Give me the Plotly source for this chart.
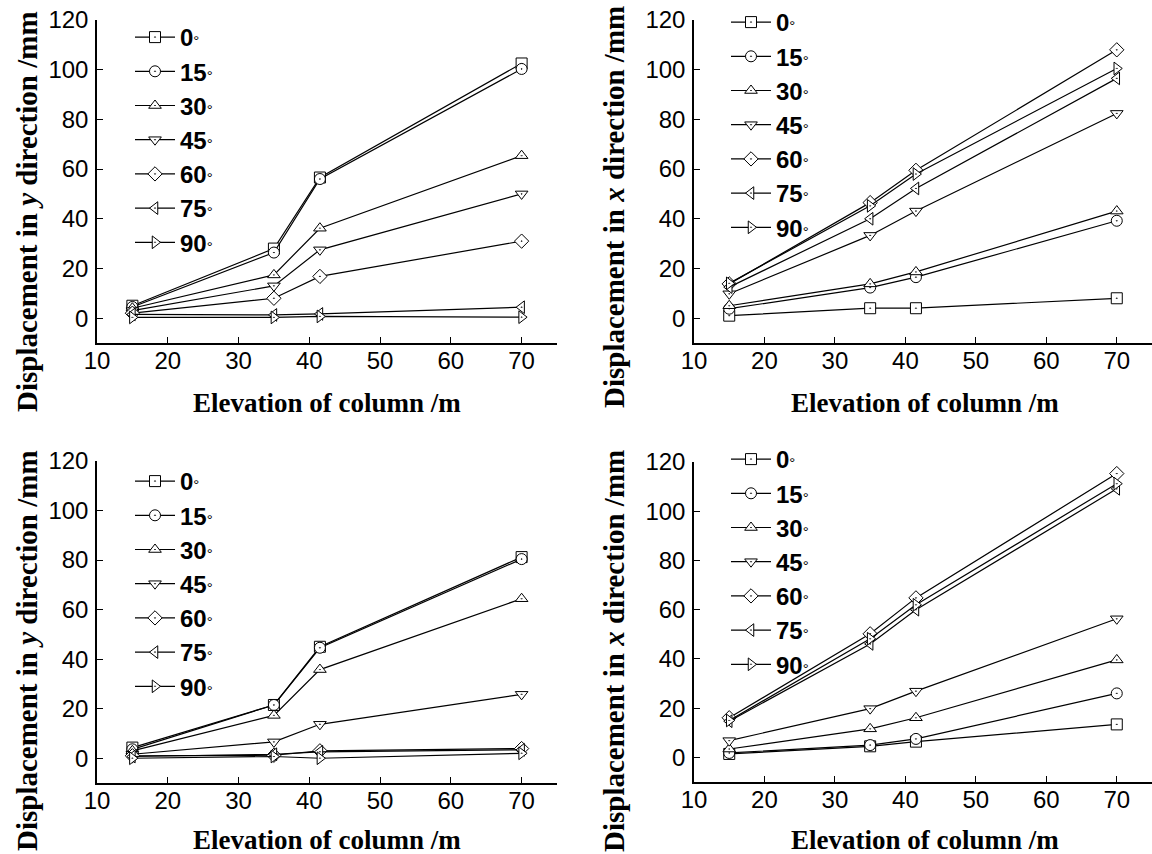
import plotly.graph_objects as go

W, H = 1152, 854

elev = [15, 35, 41.5, 70]
angles = ["0", "15", "30", "45", "60", "75", "90"]
symbols = ["square-dot", "circle-dot", "triangle-up-dot", "triangle-down-dot",
           "diamond-dot", "triangle-left-dot", "triangle-right-dot"]

# Panel A: top-left, displacement in y direction
a_0 = [5.0, 28.0, 56.6, 102.5]
a_15 = [4.5, 26.4, 56.0, 100.3]
a_30 = [4.0, 17.4, 36.2, 65.4]
a_45 = [3.0, 13.0, 27.5, 50.0]
a_60 = [2.0, 8.0, 16.8, 31.0]
a_75 = [1.5, 1.3, 1.7, 4.4]
a_90 = [0.3, 0.3, 0.7, 0.4]

# Panel B: top-right, displacement in x direction
b_0 = [1.0, 4.0, 4.0, 8.0]
b_15 = [3.8, 12.3, 16.5, 39.2]
b_30 = [5.0, 13.8, 18.6, 43.1]
b_45 = [9.8, 33.3, 43.1, 82.4]
b_60 = [13.8, 46.5, 59.5, 108.0]
b_75 = [12.5, 40.0, 52.2, 96.5]
b_90 = [14.0, 45.2, 58.0, 100.5]

# Panel C: bottom-left, displacement in y direction
c_0 = [4.3, 21.5, 45.0, 81.2]
c_15 = [3.6, 21.5, 44.6, 80.4]
c_30 = [3.0, 17.3, 35.8, 64.4]
c_45 = [1.6, 6.6, 13.7, 25.8]
c_60 = [1.0, 1.2, 3.0, 3.9]
c_75 = [0.7, 1.6, 2.6, 3.4]
c_90 = [0.0, 0.7, 0.0, 2.0]

# Panel D: bottom-right, displacement in x direction
d_0 = [1.4, 4.5, 6.4, 13.4]
d_15 = [1.8, 5.0, 7.5, 26.0]
d_30 = [3.4, 11.6, 16.1, 39.6]
d_45 = [6.8, 19.8, 26.9, 56.3]
d_60 = [16.1, 50.2, 64.8, 115.3]
d_75 = [14.7, 46.1, 60.0, 109.1]
d_90 = [15.0, 48.2, 62.0, 111.2]

panels = [
    [a_0, a_15, a_30, a_45, a_60, a_75, a_90],
    [b_0, b_15, b_30, b_45, b_60, b_75, b_90],
    [c_0, c_15, c_30, c_45, c_60, c_75, c_90],
    [d_0, d_15, d_30, d_45, d_60, d_75, d_90],
]
ytitles = ["Displacement in <i>y</i> direction /mm",
           "Displacement in <i>x</i> direction /mm",
           "Displacement in <i>y</i> direction /mm",
           "Displacement in <i>x</i> direction /mm"]
xtitle = "Elevation of column /m"

# pixel layout: (x0, x1, ytop, ybottom)
boxes = [(97, 557, 20, 343), (694, 1152, 20, 343),
         (97, 557, 461, 783), (694, 1152, 462, 782)]
legend_pos = [(130, 15), (726, 0), (130, 459), (726, 437)]
ytitle_pos = [(27, 212), (614, 207), (27, 651), (614, 651)]
xtitle_pos = [(327, 403), (925, 403), (327, 840), (925, 840)]

fig = go.Figure()
for p, series in enumerate(panels):
    xa = "x" if p == 0 else f"x{p+1}"
    ya = "y" if p == 0 else f"y{p+1}"
    lg = "legend" if p == 0 else f"legend{p+1}"
    for i, vals in enumerate(series):
        fig.add_trace(go.Scatter(
            x=elev, y=vals, xaxis=xa, yaxis=ya, legend=lg,
            mode="lines+markers",
            name=f"<b>{angles[i]}</b><span style='font-size:15px'>\u00b0</span>",
            line=dict(color="black", width=1.2),
            marker=dict(symbol=symbols[i], size=11, color="white",
                        line=dict(color="black", width=1)),
        ))

layout = dict(width=W, height=H,
              margin=dict(l=0, r=0, t=0, b=0, pad=0, autoexpand=False),
              paper_bgcolor="white", plot_bgcolor="white", showlegend=True,
              annotations=[])
axfont = dict(family="Liberation Sans, Arial", size=24, color="black")
for p, (x0, x1, yt, yb) in enumerate(boxes):
    sx = "" if p == 0 else str(p + 1)
    layout[f"xaxis{sx}"] = dict(
        domain=[x0 / W, min(x1 / W, 1)], anchor=f"y{sx}", range=[10, 75],
        tickvals=[10, 20, 30, 40, 50, 60, 70], ticks="inside", ticklen=6,
        tickcolor="black", showline=True, linecolor="black", linewidth=1.5,
        showgrid=False, zeroline=False, tickfont=axfont, automargin=False,
        ticklabelstandoff=-5)
    layout[f"yaxis{sx}"] = dict(
        domain=[1 - yb / H, 1 - yt / H], anchor=f"x{sx}", range=[-10, 120],
        tickvals=[0, 20, 40, 60, 80, 100, 120], ticks="inside", ticklen=6,
        tickcolor="black", showline=True, linecolor="black", linewidth=1.5,
        showgrid=False, zeroline=False, tickfont=axfont, ticklabelstandoff=2,
        automargin=False)
    lx, ly = legend_pos[p]
    layout["legend" if p == 0 else f"legend{p+1}"] = dict(
        x=lx / W, y=1 - ly / H, xanchor="left", yanchor="top",
        bgcolor="rgba(0,0,0,0)", borderwidth=0,
        font=dict(family="Liberation Sans, Arial", size=24, color="black"),
        itemwidth=40, tracegroupgap=0)
    tx, ty = ytitle_pos[p]
    layout["annotations"].append(dict(
        x=tx / W, y=1 - ty / H, xref="paper", yref="paper", showarrow=False,
        text=f"<b>{ytitles[p]}</b>", textangle=-90,
        font=dict(family="Liberation Serif, Times New Roman", size=29, color="black"),
        xanchor="center", yanchor="middle"))
    tx, ty = xtitle_pos[p]
    layout["annotations"].append(dict(
        x=tx / W, y=1 - ty / H, xref="paper", yref="paper", showarrow=False,
        text=f"<b>{xtitle}</b>",
        font=dict(family="Liberation Serif, Times New Roman", size=27, color="black"),
        xanchor="center", yanchor="middle"))

fig.update_layout(**layout)
fig.write_html("out.html", config={"displayModeBar": False},
               post_script="document.body.style.margin='0';"
                           "document.body.style.overflow='hidden';")
